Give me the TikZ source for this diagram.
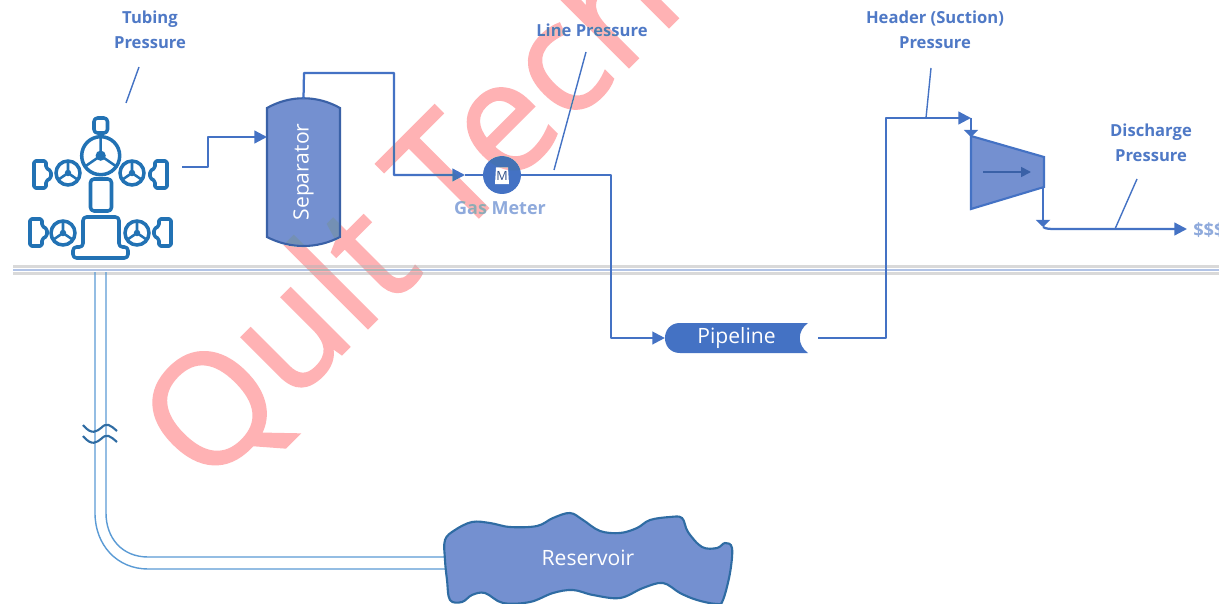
\documentclass[tikz,border=0pt]{standalone}
\usepackage{fontspec}
\setmainfont{Open Sans}
\newfontfamily\markfont[FakeBold=1.4]{Open Sans}
\usepackage{tikz}
\usetikzlibrary{arrows.meta}
\definecolor{flowblue}{HTML}{4472C4}
\definecolor{tankblue}{HTML}{7490D0}
\definecolor{labelblue}{HTML}{4F79C6}
\definecolor{paleblue}{HTML}{8FAADC}
\definecolor{wellblue}{HTML}{2272B4}
\definecolor{pipeblue}{HTML}{5B9BD5}
\definecolor{rockblue}{HTML}{2F6CA3}
\definecolor{markpink}{HTML}{FFB2B4}
\tikzset{
  flow/.style={draw=flowblue, line width=1.6pt, line join=round},
  flowtip/.style={flow, -{Triangle[length=9pt,width=9pt]}},
  smalltip/.style={flow, -{Triangle[length=5pt,width=10pt]}},
  callout/.style={draw=flowblue, line width=1pt},
  wellline/.style={draw=wellblue, line width=2.5pt, line join=round, rounded corners=2.5pt},
  capline/.style={draw=wellblue, line width=2.5pt, line join=round, rounded corners=1.2pt},
  pressurelabel/.style={text=labelblue, font=\fontsize{11.8}{17.4}\selectfont\bfseries, align=center},
  whitelabel/.style={text=white, font=\fontsize{15}{17}\selectfont},
}
\newcommand{\wellwheel}[3]{
  \draw[wellblue, line width=2.5pt] (#1,#2) circle[radius=#3];
  \draw[wellblue, line width=1.8pt] (#1,#2) -- ++(0,-#3)
    (#1,#2) -- ++(0.8*#3,0.55*#3) (#1,#2) -- ++(-0.8*#3,0.55*#3);
  \fill[wellblue] (#1,#2) circle[radius=0.27*#3];
}
\begin{document}
\begin{tikzpicture}[x=0.025cm, y=-0.025cm, >=Latex]

\useasboundingbox (0,0) rectangle (1219,604);
\fill[white] (0,0) rectangle (1219,604);
\clip (0,0) rectangle (1219,604);


\draw[draw=gray!30, line width=2.2pt] (13,266.5) -- (1219,266.5);
\draw[draw=gray!30, line width=2.2pt] (13,273.5) -- (1219,273.5);
\draw[draw=paleblue!70, line width=1.5pt] (13,269.8) -- (1219,269.8);


\coordinate (pipetopA) at (95,272);
\coordinate (pipetopB) at (106,272);
\coordinate (pipeendA) at (445,569);
\coordinate (pipeendB) at (445,557);
\draw[pipeblue, line width=1pt] (pipetopA) -- (95,513) .. controls (95,545) and (117,569) .. (148,569) -- (pipeendA);
\draw[pipeblue, line width=1pt] (pipetopB) -- (106,513) .. controls (106,538) and (122,557) .. (148,557) -- (pipeendB);
\draw[rockblue, line width=1.5pt] (83,425) .. controls (92,436) and (97,431) .. (101,428) .. controls (107,422) and (110,425) .. (117,431);
\draw[rockblue, line width=1.5pt] (83,436) .. controls (92,447) and (97,442) .. (101,439) .. controls (107,433) and (110,436) .. (117,442);


\draw[wellline] (94,118) rectangle (107.5,133);
\draw[wellline] (90.5,179) rectangle (111.5,211);
\draw[wellline] (83,247) -- (83,217) -- (119,217) -- (119,247) -- (128,247) -- (128,258) -- (73,258) -- (73,247) -- cycle;
\wellwheel{100.7}{155.7}{19}
\wellwheel{68}{173}{12}
\wellwheel{132}{173}{12}
\wellwheel{63}{233}{12}
\wellwheel{137}{233}{12}
\foreach \capx/\capy/\capdir in {34/160/1, 167/160/-1, 30/218/1, 171/218/-1} {
  \begin{scope}[shift={(\capx,\capy)}, xscale=\capdir]
    \draw[capline] (0,1) -- (0,28) -- (12,28) -- (12,21) -- (17,18) -- (17,11) -- (12,8) -- (12,1) -- cycle;
  \end{scope}
}


\draw[fill=tankblue, draw=flowblue!85!black, line width=1.5pt]
  (267,108) .. controls (290,95) and (317,95) .. (340,108)
  -- (340,237) .. controls (317,249) and (290,249) .. (267,237) -- cycle;
\node[whitelabel, rotate=90, inner sep=0pt, minimum width=103.5pt, minimum height=51.7pt] (separator) at (303.5,172) {Separator};

\node[circle, fill=flowblue, inner sep=0pt, minimum size=27pt] (meter) at (502,175) {};
\fill[white] (496,167.5) -- (508,167.5) -- (509,184) -- (495,184) -- cycle;
\node[text=flowblue!70!black, font=\fontsize{9}{9}\selectfont, inner sep=0pt] (metermark) at (502,175.5) {M};
\node[text=paleblue, font=\fontsize{12.8}{14}\selectfont\bfseries] (metertext) at (500,208.5) {Gas Meter};

\fill[flowblue] (808,323) -- (680,323) .. controls (660,323) and (660,353) .. (680,353) -- (808,353)
  .. controls (797,345) and (797,331) .. (808,323) -- cycle;
\node[whitelabel, inner sep=0pt, minimum width=101.4pt, minimum height=21.3pt] (pipeline) at (736.5,338) {Pipeline};

\coordinate (compin) at (971,137);
\coordinate (compout) at (1043,188);
\draw[fill=tankblue, draw=flowblue, line width=1.5pt] (971,136) -- (1044,157) -- (1044,187) -- (971,209) -- cycle;
\draw[draw=flowblue!85!black, line width=1.2pt, -{Triangle[length=7pt,width=7pt]}] (983,172) -- (1031,172);


\coordinate (wellout) at (182,167);
\coordinate (sepin) at (267,137);
\coordinate (meterin) at (465,175);
\coordinate (headertip) at (971,118);
\coordinate (outbend) at (1043,227);
\coordinate (saleend) at (1187,229);
\coordinate (pipelineout) at (818,338);

\draw[flowtip] (wellout) -- (208,167) -- (208,137) -- (sepin);
\draw[flowtip] (separator.east) -- (304,73) -- (394,73) -- (394,175) -- (meterin);
\draw[flow] (meterin) -- (meter.west);
\draw[flowtip] (meter.east) -- (611,175) -- (611,338) -- (pipeline.west);
\draw[flowtip] (pipelineout) -- (886,338) -- (886,118) -- (headertip);
\draw[smalltip] (headertip) -- (compin);
\draw[smalltip] (compout) -- (outbend);
\draw[flowtip] (outbend) .. controls (1046,229) and (1050,229) .. (1056,229) -- (saleend);


\node[pressurelabel] (tubing) at (150,30) {Tubing\\Pressure};
\node[pressurelabel] (linepressure) at (592,30) {Line Pressure};
\node[pressurelabel] (header) at (935,30) {Header (Suction)\\Pressure};
\node[pressurelabel] (discharge) at (1151,143) {Discharge\\Pressure};
\node[text=paleblue, font=\fontsize{13}{14}\selectfont\bfseries, anchor=west, inner sep=0pt] (sales) at (1193,230) {\$\$\$};

\draw[callout] (139,67) -- (126,103);
\draw[callout] (586,52) -- (554,170);
\draw[callout] (931,68) -- (926,118);
\draw[callout] (1137,179) -- (1115,229);


\draw[fill=tankblue, draw=rockblue, line width=1.5pt, smooth cycle, tension=0.6]
  plot coordinates {
    (445,540) (455,530) (472,522) (490,523) (510,527) (537,526) (553,518) (570,513)
    (583,520) (600,531) (620,533) (637,528) (650,520) (670,517) (682,518) (688,532)
    (702,547) (717,548) (725,543) (732,548) (730,573) (723,600) (717,604) (697,600)
    (680,593) (663,583) (643,588) (620,598) (593,595) (573,590) (553,593) (530,602)
    (503,603) (485,593) (472,595) (462,602) (450,600) (447,580) (445,560)
  };
\node[whitelabel] (reservoir) at (588,558) {Reservoir};


\node[text=markpink, rotate=45, anchor=base west, inner sep=0pt, blend mode=darken,
  font=\markfont\fontsize{110}{120}\selectfont] (mark) at (206,490) {Qult Tech};

\end{tikzpicture}
\end{document}
